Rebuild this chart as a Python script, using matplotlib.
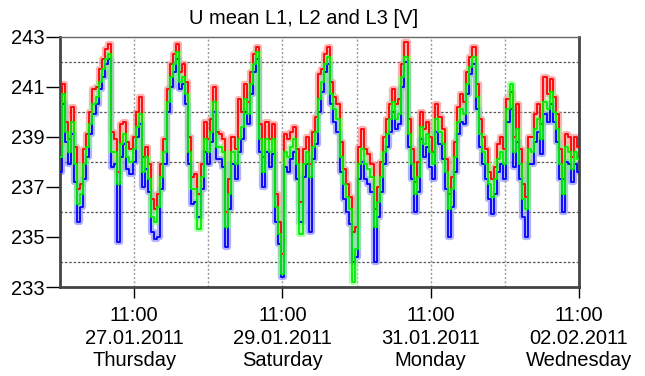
import matplotlib.pyplot as plt
import numpy as np
import pandas as pd

plt.rcParams['font.family'] = ['Liberation Sans', 'DejaVu Sans']

# hourly values from 26.01.2011 11:00 to 02.02.2011 11:00
u_l1 = [238.7, 241.1, 239.6, 238.9, 240.2, 238.6, 236.9, 237.1, 238.5, 239.1,
        240.0, 240.9, 241.0, 241.7, 242.1, 242.5, 242.7, 239.2, 238.9, 237.6,
        239.5, 239.6, 238.8, 238.5, 239.0, 240.0, 240.6, 238.2, 238.6, 237.9,
        236.5, 236.1, 236.7, 237.9, 238.9, 240.9, 241.9, 242.3, 242.7, 241.6,
        241.9, 241.2, 239.0, 237.4, 237.5, 236.7, 237.9, 239.6, 238.9, 239.7,
        241.0, 239.2, 239.1, 238.9, 236.0, 237.3, 239.0, 238.5, 240.5, 240.0,
        241.1, 240.4, 241.6, 242.3, 242.6, 239.5, 238.2, 239.6, 238.9, 239.5,
        236.7, 235.6, 234.3, 239.1, 238.9, 239.2, 239.4, 238.5, 236.4, 238.5,
        239.0, 237.9, 239.2, 239.8, 241.5, 241.7, 242.3, 242.6, 241.2, 240.6,
        240.3, 238.8, 237.7, 237.1, 236.6, 235.2, 235.4, 238.6, 239.3, 238.5,
        238.3, 237.9, 236.1, 237.0, 238.0, 239.0, 239.7, 240.3, 240.9, 240.3,
        240.5, 241.9, 242.8, 239.7, 238.5, 237.2, 238.0, 240.0, 239.3, 239.6,
        239.0, 238.4, 240.3, 239.8, 239.3, 238.1, 236.7, 237.4, 238.8, 240.2,
        240.7, 240.4, 241.6, 242.2, 242.6, 241.1, 239.7, 239.0, 238.5, 237.6,
        237.3, 237.8, 238.7, 239.0, 238.5, 240.5, 240.8, 239.0, 240.3, 238.5,
        237.1, 236.6, 239.0, 239.0, 239.9, 240.3, 239.5, 241.4, 240.7, 241.3,
        240.6, 239.9, 238.5, 237.3, 239.1, 239.0, 238.2, 239.0, 238.6]

u_l2 = [237.6, 240.3, 238.8, 237.9, 239.1, 237.2, 235.6, 236.2, 237.3, 238.2,
        239.1, 239.9, 240.3, 240.9, 241.4, 241.9, 242.1, 237.8, 237.9, 234.8,
        238.2, 238.7, 237.7, 237.5, 238.0, 239.0, 239.5, 237.0, 237.7, 236.8,
        235.2, 234.9, 235.0, 236.9, 237.9, 240.0, 241.0, 241.6, 242.1, 240.9,
        241.1, 240.3, 237.9, 236.3, 236.4, 235.8, 236.9, 238.4, 237.9, 238.8,
        240.0, 238.1, 238.1, 237.8, 234.6, 236.1, 237.9, 237.3, 238.4, 238.9,
        240.0, 239.5, 240.7, 241.6, 242.1, 238.4, 237.0, 238.4, 237.8, 238.3,
        235.6, 234.7, 233.4, 237.8, 237.6, 238.1, 238.4, 237.3, 235.6, 237.4,
        237.9, 235.2, 238.1, 238.7, 240.0, 240.8, 241.6, 241.9, 240.3, 239.6,
        239.2, 237.6, 236.5, 236.0, 235.5, 234.0, 234.2, 237.3, 238.0, 237.3,
        237.1, 236.8, 234.0, 235.8, 236.8, 237.9, 238.6, 239.2, 240.0, 239.3,
        239.5, 241.0, 242.0, 238.6, 237.3, 236.0, 236.8, 238.9, 238.2, 238.6,
        237.8, 237.3, 239.2, 238.7, 238.1, 236.9, 235.0, 236.2, 237.6, 239.1,
        239.6, 239.5, 240.7, 241.5, 241.9, 240.1, 238.6, 237.9, 237.3, 236.5,
        235.9, 236.7, 237.6, 237.9, 237.3, 239.6, 240.1, 237.8, 238.8, 237.3,
        235.8, 235.0, 237.9, 237.9, 238.8, 239.2, 238.3, 239.9, 239.6, 240.3,
        239.6, 238.8, 237.3, 236.0, 238.0, 237.9, 237.2, 237.9, 237.6]

u_l3 = [238.2, 240.7, 239.2, 238.4, 239.6, 237.9, 236.3, 236.7, 237.9, 238.6,
        239.5, 240.3, 240.6, 241.2, 241.7, 242.1, 242.3, 238.4, 238.4, 237.1,
        238.7, 239.1, 238.2, 238.0, 238.5, 239.4, 239.9, 237.6, 238.2, 237.3,
        235.8, 235.6, 236.2, 237.4, 238.4, 240.4, 241.4, 241.9, 242.4, 241.2,
        241.4, 240.7, 238.4, 236.9, 236.9, 235.3, 237.4, 238.9, 238.4, 239.2,
        240.4, 238.6, 238.6, 238.4, 235.4, 236.7, 238.4, 237.9, 238.9, 239.4,
        240.5, 239.9, 241.1, 241.9, 242.4, 238.9, 237.6, 238.9, 238.4, 238.9,
        236.2, 235.1, 233.5, 238.4, 238.2, 238.6, 238.9, 237.9, 235.1, 237.9,
        238.4, 237.4, 238.6, 239.2, 240.5, 241.2, 241.9, 242.2, 240.7, 240.1,
        239.7, 238.2, 237.1, 236.6, 236.1, 233.2, 234.5, 237.9, 238.5, 237.9,
        237.7, 237.4, 235.4, 236.4, 237.4, 238.4, 239.1, 239.7, 240.4, 239.7,
        239.9, 241.4, 242.2, 239.1, 237.9, 236.7, 237.4, 239.4, 238.7, 239.1,
        238.4, 237.9, 239.7, 239.2, 238.7, 237.6, 236.1, 236.9, 238.2, 239.6,
        240.1, 239.9, 241.1, 241.8, 242.2, 240.6, 239.1, 238.4, 237.9, 237.1,
        236.6, 237.3, 238.1, 238.4, 237.9, 240.1, 241.1, 238.4, 239.3, 237.9,
        236.5, 236.1, 238.5, 238.4, 239.3, 239.7, 238.9, 240.4, 240.1, 240.8,
        240.0, 239.3, 237.9, 236.7, 238.6, 238.4, 237.7, 238.4, 238.1]

times = pd.date_range('2011-01-26 11:00', periods=len(u_l1), freq='h')

fig = plt.figure(figsize=(6.45, 3.76), dpi=100)
ax = fig.add_axes([0.093, 0.2367, 0.8047, 0.665])

series = [(u_l1, '#ff0000', '#ff8080'),
          (u_l2, '#0000ff', '#8080ff'),
          (u_l3, '#00f000', '#80ff80')]
for vals, col, light in series:
    ax.plot(times, vals, color=light, lw=4.5, drawstyle='steps-mid', alpha=0.6, zorder=2)
for vals, col, light in series:
    ax.plot(times, vals, color=col, lw=1.3, drawstyle='steps-mid', zorder=3)

ax.set_xlim(times[0], times[-1])
ax.set_ylim(233, 243)

ax.set_yticks([233, 235, 237, 239, 241, 243])
ax.set_yticks(np.arange(233, 244, 1), minor=True)
ax.tick_params(axis='y', which='major', length=10, width=1, labelsize=14.5, pad=1)
ax.tick_params(axis='y', which='minor', length=0)

day_ticks = pd.date_range('2011-01-26 11:00', '2011-02-02 11:00', freq='D')
label_ticks = pd.date_range('2011-01-27 11:00', '2011-02-02 11:00', freq='2D')
ax.set_xticks(label_ticks)
ax.set_xticks([d for d in day_ticks if d not in label_ticks], minor=True)
ax.set_xticklabels([t.strftime('%H:%M\n%d.%m.%Y\n') + t.strftime('%A') for t in label_ticks],
                   fontsize=14.5, linespacing=1.22)
ax.tick_params(axis='x', which='major', length=8, width=1, pad=6)
ax.tick_params(axis='x', which='minor', length=0)

ax.grid(axis='y', which='minor', color='#555555', linestyle=(0, (2, 1.5)), lw=0.9, zorder=1)
ax.grid(axis='x', which='both', color='#999999', linestyle=(0, (1.5, 1.5)), lw=1.0, zorder=1)

for side in ['left', 'bottom', 'right']:
    ax.spines[side].set_linewidth(2)
    ax.spines[side].set_color('#444444')
ax.spines['top'].set_linewidth(1)
ax.spines['top'].set_color('#666666')

fig.text(0.4705, 0.952, 'U mean L1, L2 and L3 [V]', fontsize=14.5, ha='center', va='center')

plt.savefig('out.png', dpi=100)
